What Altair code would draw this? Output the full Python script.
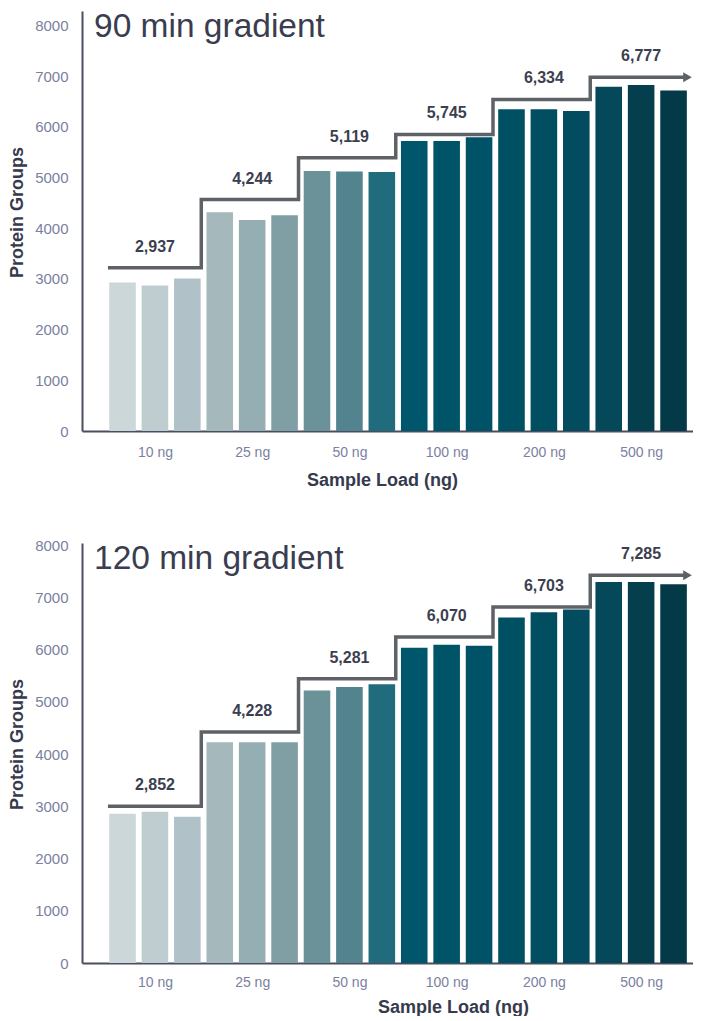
import altair as alt
import pandas as pd

FONT = "Liberation Sans"

loads = ["10 ng", "25 ng", "50 ng", "100 ng", "200 ng", "500 ng"]

top_title = "90 min gradient"
top_values = [2930, 2870, 3010, 4317, 4160, 4255, 5130, 5120, 5107,
              5720, 5720, 5795, 6345, 6345, 6312, 6790, 6825, 6716]
top_means = [2937, 4244, 5119, 5745, 6334, 6777]
top_levels = [3220, 4566, 5390, 5850, 6540, 6980]
top_colors = ["#cbd7d9", "#bfcdd1", "#b0c2c7", "#a5b9bd", "#95aeb3", "#7f9fa4",
              "#6b9299", "#52838e", "#206b7c", "#00566a", "#005468", "#005266",
              "#005064", "#024e61", "#034b5e", "#044859", "#053f4e", "#043947"]

bottom_title = "120 min gradient"
bottom_values = [2858, 2898, 2800, 4228, 4228, 4228, 5220, 5285, 5338,
                 6040, 6095, 6075, 6620, 6720, 6770, 7300, 7300, 7255]
bottom_means = [2852, 4228, 5281, 6070, 6703, 7285]
bottom_levels = [3002, 4425, 5447, 6244, 6819, 7426]
bottom_colors = ["#cfd9db", "#c0cdd1", "#b9c8cc", "#aabcc1", "#9cb1b6", "#8ca7ac",
                 "#7b9da3", "#639096", "#4c7f8a", "#1f6b7c", "#00566a", "#005569",
                 "#025166", "#035063", "#035062", "#043f4e", "#053d4b", "#053845"]

y_ticks = [0, 1000, 2000, 3000, 4000, 5000, 6000, 7000, 8000]

AXIS_COL = "#4b4e60"
LABEL_COL = "#7b7fa1"
TEXT_COL = "#363a4d"
LINE_COL = "#5e6166"


def panel(title, values, means, levels, colors, ymax, width, height,
          x_lab_pad, x_title_pad, xtitle_x, title_dx):
    n = len(values)
    bars = pd.DataFrame({
        "idx": list(range(n)),
        "y": values,
        "load": [loads[i // 3] for i in range(n)],
    })
    px, py = [-0.45], [levels[0]]
    for g in range(len(levels)):
        if g < len(levels) - 1:
            e = 3 * g + 2.43
            px += [e, e]
            py += [levels[g], levels[g + 1]]
        else:
            px.append(3 * g + 2.38)
            py.append(levels[g])
    step = pd.DataFrame({"x": px, "y": py, "order": list(range(len(px)))})
    labs = pd.DataFrame({"x": [3 * g + 1 for g in range(len(means))],
                         "y": levels, "v": means})
    arrow = pd.DataFrame({"x": [3 * (len(levels) - 1) + 2.43], "y": [levels[-1]]})
    tdf = pd.DataFrame({"t": [title]})

    xscale = alt.Scale(domain=[-1.25, 17.6], nice=False, zero=False)
    yscale = alt.Scale(domain=[0, ymax], nice=False)
    label_expr = "[" + ",".join("'%s'" % l for l in loads) + "][(datum.value-1)/3]"
    xaxis = alt.Axis(values=[1, 4, 7, 10, 13, 16], labelExpr=label_expr, grid=False,
                     ticks=False, domainColor=AXIS_COL, domainWidth=2,
                     labelColor=LABEL_COL, labelFont=FONT, labelFontSize=14,
                     labelPadding=x_lab_pad, title="Sample Load (ng)", titleFont=FONT,
                     titleFontSize=18, titleFontWeight="bold", titleColor=TEXT_COL,
                     titlePadding=x_title_pad, titleX=xtitle_x)
    yaxis = alt.Axis(values=y_ticks, format="d", grid=False, ticks=False,
                     domainColor=AXIS_COL, domainWidth=2, labelColor=LABEL_COL,
                     labelFont=FONT, labelFontSize=15, labelPadding=14,
                     title="Protein Groups", titleFont=FONT, titleFontSize=18,
                     titleFontWeight="bold", titleColor=TEXT_COL, titlePadding=8,
                     titleY=201)

    bar_layer = alt.Chart(bars).transform_calculate(
        x1="datum.idx - 0.41", x2="datum.idx + 0.41"
    ).mark_bar().encode(
        x=alt.X("x1:Q", scale=xscale, axis=xaxis),
        x2="x2:Q",
        y=alt.Y("y:Q", scale=yscale, axis=yaxis),
        y2=alt.datum(0),
        color=alt.Color("idx:O", scale=alt.Scale(domain=list(range(n)), range=colors),
                        legend=None),
    )
    line_layer = alt.Chart(step).mark_line(color=LINE_COL, strokeWidth=3.5,
                                           strokeJoin="miter").encode(
        x=alt.X("x:Q", scale=xscale, axis=xaxis),
        y=alt.Y("y:Q", scale=yscale, axis=yaxis),
        order="order:Q",
    )
    arrow_layer = alt.Chart(arrow).mark_point(shape="triangle-right", filled=True,
                                              color=LINE_COL, opacity=1, size=100).encode(
        x=alt.X("x:Q", scale=xscale, axis=xaxis),
        y=alt.Y("y:Q", scale=yscale, axis=yaxis),
    )
    text_layer = alt.Chart(labs).mark_text(font=FONT, fontSize=16, fontWeight="bold",
                                           color="#3c3f50", dy=-21,
                                           baseline="middle").encode(
        x=alt.X("x:Q", scale=xscale, axis=xaxis),
        y=alt.Y("y:Q", scale=yscale, axis=yaxis),
        text=alt.Text("v:Q", format=",d"),
    )
    title_layer = alt.Chart(tdf).mark_text(font=FONT, fontSize=33.5, color="#3a3d4f",
                                           align="left", baseline="top").encode(
        x=alt.value(title_dx), y=alt.value(0), text="t:N",
    )
    return alt.layer(bar_layer, line_layer, arrow_layer, text_layer, title_layer
                     ).properties(width=width, height=height)


top = panel(top_title, top_values, top_means, top_levels, top_colors,
            8285, 611, 420, 14, 12, 300, 12)
bottom = panel(bottom_title, bottom_values, bottom_means, bottom_levels, bottom_colors,
               8045, 611, 420, 12, 9, 371, 12)

chart = alt.vconcat(top, bottom, spacing=49).configure_view(stroke=None).properties(
    padding={"left": 0, "top": 2, "right": 0, "bottom": 0},
    background="white",
)

chart.save("out.html", embed_options={"renderer": "svg", "actions": False})
